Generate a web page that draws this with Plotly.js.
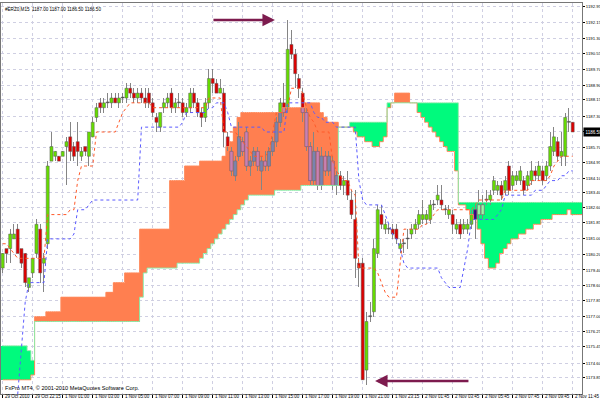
<!DOCTYPE html>
<html><head><meta charset="utf-8">
<script src="https://cdn.plot.ly/plotly-3.0.1.min.js"></script>
<style>html,body{margin:0;padding:0;background:#fff}#chart{width:600px;height:404px}</style>
</head><body><div id="chart"></div>
<script>
const headerText = '#ERZ0,M15  1187.00 1187.00 1186.50 1186.50';
const footerText = 'FxPro MT4, \u00A9 2001-2010 MetaQuotes Software Corp.';
const lastPriceLabel = '1186.50';
const lastPrice = 1186.5;

const xTickBars = [0,8,16,24,32,40,48,56,64,72,80,88,96,104,112,120,128,136,144,152];
const xTickLabels = ['29 Oct 2010','29 Oct 22:15','1 Nov 01:00','1 Nov 03:00','1 Nov 05:00','1 Nov 07:00','1 Nov 09:00','1 Nov 11:00','1 Nov 13:00','1 Nov 15:00','1 Nov 17:00','1 Nov 19:00','1 Nov 21:00','1 Nov 23:15','2 Nov 01:45','2 Nov 03:45','2 Nov 05:45','2 Nov 07:45','2 Nov 09:45','2 Nov 11:45'];
const yTickValues = [1173.00,1173.85,1174.60,1175.45,1176.25,1177.00,1177.85,1178.60,1179.40,1180.20,1181.00,1181.85,1182.60,1183.40,1184.10,1184.95,1185.70,1186.55,1187.30,1188.15,1188.90,1189.70,1190.55,1191.30,1192.15,1192.95];
const yTickLabels = ['1173.00','1173.85','1174.60','1175.45','1176.25','1177.00','1177.85','1178.60','1179.40','1180.20','1181.00','1181.85','1182.60','1183.40','1184.10','1184.95','1185.70','','1187.30','1188.15','1188.90','1189.70','1190.55','1191.30','1192.15','1192.95'];

const open = [1179.5,1180.5,1180.5,1181.0,1181.5,1180.5,1180.25,1178.5,1179.25,1180.25,1181.5,1179.75,1180.75,1185.0,1185.25,1185.25,1185.25,1185.75,1186.25,1185.75,
1186.0,1185.25,1185.75,1185.25,1186.25,1187.25,1188.0,1187.75,1188.0,1188.0,1188.25,1188.0,1188.25,1188.25,1188.75,1188.5,1188.25,1188.5,1188.25,1188.5,
1188.0,1187.25,1186.75,1187.75,1188.0,1188.5,1187.75,1188.0,1188.0,1187.5,1187.75,1188.5,1188.0,1187.5,1187.25,1188.0,1189.25,1189.0,1188.5,1188.5,
1186.25,1185.5,1184.25,1185.25,1186.0,1186.5,1184.75,1185.0,1185.5,1184.5,1185.0,1184.75,1185.5,1186.0,1187.0,1188.0,1187.75,1191.0,1190.5,1189.25,
1188.5,1187.5,1185.75,1184.0,1185.5,1183.75,1185.25,1184.5,1185.0,1183.75,1184.25,1183.75,1184.0,1183.0,1182.0,1179.75,1179.75,1174.25,1177.0,1177.25,
1180.25,1182.25,1181.5,1181.5,1181.5,1181.5,1180.5,1180.75,1181.0,1181.25,1181.5,1181.75,1182.0,1182.0,1182.0,1182.75,1183.0,1183.0,1182.5,1182.25,
1182.25,1181.5,1181.75,1181.5,1181.5,1181.75,1182.5,1182.25,1182.25,1183.0,1183.0,1183.5,1183.5,1183.75,1183.5,1184.75,1183.75,1184.0,1184.0,1184.0,
1183.75,1184.0,1184.5,1184.25,1184.5,1184.25,1184.75,1185.5,1186.0,1185.25,1185.25,1187.0,1187.0];
const high = [1180.25,1180.5,1181.5,1181.75,1181.75,1180.5,1180.25,1179.0,1180.0,1182.0,1181.75,1180.25,1185.0,1186.5,1185.5,1185.25,1185.5,1186.25,1187.0,1186.0,
1187.0,1185.75,1185.75,1186.5,1187.25,1188.0,1188.25,1188.25,1188.5,1188.5,1188.5,1188.5,1188.5,1189.0,1189.0,1188.75,1188.75,1188.75,1188.75,1188.75,
1188.25,1187.5,1187.5,1188.25,1188.5,1188.75,1188.25,1188.5,1188.25,1188.0,1188.75,1188.75,1188.25,1187.75,1188.25,1189.75,1189.75,1189.25,1189.25,1188.75,
1186.5,1185.75,1185.25,1187.0,1186.25,1186.75,1185.25,1185.75,1185.75,1185.25,1185.5,1185.75,1186.25,1187.25,1188.25,1189.0,1192.25,1191.75,1190.75,1189.5,
1188.75,1187.75,1186.0,1186.5,1185.75,1185.75,1185.5,1185.5,1185.25,1184.5,1184.5,1184.25,1184.5,1183.5,1183.5,1180.0,1180.0,1177.25,1177.75,1181.0,
1182.75,1182.75,1182.0,1181.75,1181.75,1181.75,1181.0,1181.0,1181.5,1181.75,1182.0,1182.5,1183.0,1182.5,1183.0,1183.0,1183.75,1183.75,1182.75,1182.75,
1182.5,1182.0,1182.0,1182.0,1182.0,1182.5,1182.75,1183.5,1183.25,1183.5,1183.5,1184.25,1184.0,1184.0,1184.25,1185.0,1184.5,1184.5,1184.75,1184.25,
1184.5,1185.0,1184.75,1185.0,1184.75,1185.0,1186.5,1186.75,1186.25,1186.5,1187.5,1187.75,1187.0];
const low = [1179.25,1179.75,1179.75,1181.0,1180.25,1179.5,1178.5,1178.25,1179.0,1180.0,1178.75,1178.25,1180.5,1185.0,1185.0,1185.0,1185.25,1183.75,1185.0,1185.0,
1184.75,1185.0,1185.25,1184.75,1186.25,1187.0,1187.5,1187.5,1187.75,1187.75,1188.0,1187.75,1188.0,1188.0,1188.25,1188.0,1188.0,1188.0,1187.75,1187.75,
1187.25,1186.5,1186.5,1187.5,1187.75,1187.5,1187.5,1187.75,1187.25,1187.25,1187.5,1187.75,1187.25,1186.75,1187.0,1187.75,1188.5,1188.5,1188.5,1185.75,
1185.5,1184.25,1184.0,1185.0,1185.25,1184.5,1184.25,1184.75,1184.5,1183.5,1184.5,1184.5,1185.25,1185.75,1186.75,1187.25,1187.5,1190.25,1188.75,1188.25,
1187.0,1185.5,1183.75,1183.75,1183.5,1183.5,1184.25,1184.25,1183.5,1183.25,1183.5,1183.25,1183.0,1182.0,1179.0,1178.5,1173.75,1173.5,1176.75,1177.0,
1180.0,1181.5,1181.25,1181.25,1181.0,1180.75,1180.25,1180.25,1180.5,1181.0,1181.25,1181.5,1181.75,1181.75,1181.75,1182.5,1182.75,1182.5,1182.25,1182.0,
1181.25,1181.25,1181.0,1181.25,1181.25,1181.5,1181.0,1182.0,1182.0,1182.75,1182.75,1183.25,1183.25,1183.0,1183.25,1183.25,1183.5,1183.75,1183.75,1183.25,
1183.5,1183.75,1184.0,1184.0,1183.75,1184.0,1184.5,1185.25,1185.0,1184.75,1184.75,1186.5,1186.5];
const close = [1180.25,1180.25,1181.25,1181.25,1180.25,1179.75,1178.75,1179.0,1180.0,1181.75,1179.25,1180.0,1184.75,1185.75,1185.5,1185.0,1185.5,1186.0,1185.5,1185.25,
1185.5,1185.5,1185.5,1186.5,1187.0,1187.75,1187.75,1188.0,1188.0,1188.25,1188.0,1188.25,1188.25,1188.75,1188.5,1188.25,1188.5,1188.25,1188.0,1188.0,
1187.5,1187.0,1187.5,1188.0,1188.25,1187.75,1188.0,1188.0,1187.5,1187.75,1188.5,1188.0,1187.5,1187.25,1188.0,1189.25,1189.0,1188.5,1188.75,1186.5,
1185.75,1184.5,1185.0,1186.25,1185.5,1184.75,1185.0,1185.5,1184.75,1185.0,1184.75,1185.5,1186.0,1187.0,1188.0,1187.5,1190.75,1190.5,1189.5,1188.75,
1187.5,1185.75,1184.0,1185.5,1183.75,1185.25,1184.5,1185.25,1183.75,1184.25,1183.75,1184.0,1183.25,1182.25,1180.0,1179.5,1173.75,1176.75,1177.0,1180.5,
1182.5,1181.75,1181.75,1181.5,1181.25,1181.0,1180.75,1180.75,1181.0,1181.5,1181.75,1182.25,1182.25,1182.25,1182.75,1182.75,1183.25,1182.75,1182.5,1182.5,
1181.75,1181.75,1181.25,1181.75,1181.75,1182.25,1182.0,1182.75,1182.75,1183.0,1183.25,1184.0,1183.75,1183.25,1184.0,1183.5,1184.25,1184.25,1184.5,1183.5,
1184.25,1184.5,1184.25,1184.75,1184.0,1184.75,1185.75,1186.25,1185.25,1185.5,1187.25,1187.0,1186.5];

const tenkan = [1180.75,1180.75,1180.5,1180.25,1180,1180,1180,1180,1180,1180,1180,1180,
1182.25,1182.25,1182.25,1182.25,1182.25,1182.25,1182.5,1182.5,1184.0,1184.75,1184.75,1184.75,1184.75,
1186.5,1186.5,1186.5,1186.5,1186.5,1186.5,1187.0,1187.5,1187.75,1188,1188,1188,1188,1188,1188,
1187.75,1187.75,1187.75,1187.75,1187.75,1187.75,1187.75,1187.75,1187.75,1187.75,1187.75,1187.75,1187.75,1187.75,1187.75,
1188.25,1188.25,1188.25,1188.25,1186.5,1186.5,1186.5,1186.5,1186.25,1186.0,1185.75,1185.5,1185.25,1185.25,1185.25,1185.25,
1185.5,1186.5,1187.5,1187.5,1187.5,1187.75,1188.75,1188.75,1188.75,1188.5,1187.75,1187.25,1187.0,1186.5,1186.5,1186.5,1186.5,
1185.0,1184.5,1184.25,1184.0,1184.0,1183.5,1183.25,1179.5,1179.5,1179.5,1179.5,1179.5,1179.25,1178.75,1178.25,1178,1178,1178,
1179.75,1181.5,1181.5,1181.5,1181.5,1181.5,1181.75,1181.75,1182.0,1182.25,
1182.5,1182.5,1182.5,1182.5,1182.5,1182.5,1182.5,1182.5,1182.5,1182.5,1182.75,
1183,1183,1183,1183,1183,1183,1183,1183.5,1183.5,1183.5,1183.5,1183.5,1183.5,1183.5,
1184,1184,1184,1184,1184,1184.25,1184.75,1185.0,1185.25,1185.25,1185.25,1185.25];
const kijun = [null,null,null,null,1173.0,1175.5,1177.75,1178.75,1178.75,1178.75,1178.75,1178.75,
1181,1181,1181,1181,1181,1181,1181,1181.25,1182.5,1182.5,1182.5,1182.75,
1183,1183,1183,1183,1183,1183,1183,1183,1183,1183,1183,1183,1183,
1186.75,1186.75,1186.75,1186.75,1186.75,1186.75,1186.75,1186.75,1186.75,1186.75,1186.75,1187.0,
1187.5,1187.5,1187.5,1187.5,1187.5,1187.5,1187.75,1187.75,1188,1188,1188,1187.5,
1186.75,1186.75,1186.75,1186.75,1186.75,1186.75,1186.75,1186.75,1186.75,1186.5,1186.5,1186.5,1186.5,1186.5,1186.5,
1188,1188,1188,1188,1188,1188,1188,1187.5,1187.25,1187.25,1187,1187,1187,
1186.75,1186.75,1186.75,1186.75,1186.75,1186.75,1184.0,1183.0,1182.75,1182.75,1182.75,1182.75,1182.75,
1182.25,1181.75,1181.25,1181.0,1180.5,1179.75,1179.5,1179.5,1179.5,1179.5,1179.5,1179.5,1179.5,1179.5,1179.5,
1179.0,1178.75,1178.5,1178.5,1178.5,1178.5,1179.5,1180.5,1182,1182,1182,1182,1182,1182,1182,1182.25,1182.5,
1183.25,1183.25,1183.25,1183.25,1183.25,1183.25,1183.25,1183.25,1183.5,1183.5,1183.5,1183.75,1184,1184,1184,1184.25,1184.25,1184.5,1184.5];
const spanA = [1173.75,1173.75,1173.75,1173.75,1173.75,1173.75,1173.75,1173.75,1174.0,
1177,1177,1177,1177.25,1177.25,1177.25,1177.25,
1178,1178,1178,1178,1178,1178,1178,1178,1178,1178,1178,1178,1178.25,1178.25,1178.75,1178.75,1178.75,1179.25,1179.25,1179.25,1179.25,
1181.5,1181.5,1181.5,1181.5,1181.5,1181.5,1181.5,1181.5,1184,1184,1184,1184,1184.75,1184.75,1184.75,1184.75,
1185,1185,1185,1185,1185,1185,1185.25,1185.75,1186.0,1186.75,1187.25,
1187.5,1187.5,1187.5,1187.5,1187.5,1187.5,1187.5,1187.5,1187.5,1187.5,1187.5,
1187.75,1187.75,1187.75,1187.75,1187.75,1187.75,1188,1188,1188,1188,1187.5,1187.25,1187,1187,1187,
1186.75,1186.75,1186.75,1186.75,1186.5,1186.25,1186.25,1186.0,1186.0,1185.75,1185.75,1186.0,1186.25,1187.75,1188.0,
1188.5,1188.5,1188.5,1188.5,1188,1188,
1187.5,1187.25,1187.0,1186.75,1186.5,1186.25,1186.0,1185.75,1185.5,1185.5,1184.5,
1182.75,1182.75,1182.5,1182.25,1182.0,1181.5,1180.75,1180.0,1179.5,1179.5,1179.75,1180.25,1180.5,1180.75,
1181,1181,1181.25,1181.25,1181.5,1181.5,1181.75,1181.75,1182,1182,1182,1182.25,1182.25,1182.25,1182.25,1182.5,1182.25,1182.25,1182.25,1182.25];
const spanB = [1175.5,1175.5,1175.5,1175.5,1175.5,1175.5,1175.5,1175.25,1174.75,
1176.75,1176.75,1176.75,1176.75,1176.75,1176.75,1176.75,1176.75,1176.75,1176.75,1176.75,1176.75,1176.75,1176.75,
1176.75,1176.75,1176.75,1176.75,1176.75,1176.75,1176.75,1176.75,1176.75,1176.75,1176.75,1176.75,1176.75,1176.75,
1178.0,1179.25,1179.5,1179.5,1179.5,1179.5,1179.5,1179.5,1179.5,1179.5,1179.75,1179.75,1179.75,1179.75,1179.75,1179.75,
1180.0,1180.25,1180.5,1180.75,1181.0,1181.25,1181.5,1181.75,1182.0,1182.25,1182.5,1182.75,1183.0,
1183.25,1183.25,1183.25,1183.25,1183.25,1183.25,1183.25,1183.5,1183.5,1183.5,1183.5,1183.5,1183.5,1183.5,
1183.75,1183.75,1183.75,1183.75,1183.75,1183.75,1183.75,1183.75,1183.75,1183.75,
1186.75,1186.75,1186.75,1187,1187,1187,1187,1187,1187,1187,1187,1187,1187,
1188,1188,1188,1188,1188,1188,1188,1188,1188,1188,1188,1188,1188,1188,1188,1188,1188,1188,1188,
1182.875,1182.875,1182.875,1182.875,1182.875,1182.875,1182.875,1182.875,1182.875,1182.875,1182.875,1182.875,
1182.875,1182.875,1182.875,1182.875,1182.875,1182.875,1182.875,1182.875,1182.875,1182.875,1182.875,1182.875,
1182.875,1182.875,1182.875,1182.875,1182.875,1182.875,1182.875,1182.875,1182.875,1182.875];

// ---- styles ----
const ORANGE = '#FF7F50', MINT = '#00FA7D';
const BULL = '#66DD00', BEAR = '#DD0000', WICK = '#858585', DOJI = '#444444';
const IN_OR_BULL = '#7983B0', IN_OR_BEAR = '#CA80B0';
const IN_GR_BULL = '#9AF5A8', IN_GR_BEAR = '#330580';

const bars = open.map((_, i) => i);
const cbars = spanA.map((_, i) => i);
const cloudLo = spanA.map((a, i) => Math.min(a, spanB[i]));
const cloudHi = spanA.map((a, i) => Math.max(a, spanB[i]));
const cloudUp = spanA.map((a, i) => a >= spanB[i]);

const bodyLo = open.map((o, i) => Math.min(o, close[i]));
const bodyHi = open.map((o, i) => Math.max(o, close[i]));
const bodyH = bodyLo.map((l, i) => Math.max(bodyHi[i] - l, 0.045));
const bodyColor = open.map((o, i) => close[i] > o ? BULL : (close[i] < o ? BEAR : DOJI));

const inX = [], inBase = [], inH = [], inC = [];
bars.forEach(i => {
  const lo = Math.max(bodyLo[i], cloudLo[i]);
  const hi = Math.min(bodyHi[i], cloudHi[i]);
  if (hi - lo > 0.001 && close[i] !== open[i]) {
    inX.push(i); inBase.push(lo); inH.push(hi - lo);
    const bull = close[i] > open[i];
    inC.push(cloudUp[i] ? (bull ? IN_OR_BULL : IN_OR_BEAR) : (bull ? IN_GR_BULL : IN_GR_BEAR));
  }
});

const traces = [
  {type:'bar', x:cbars, base:cloudLo, y:cloudHi.map((h, i) => h - cloudLo[i]), width:1.04,
   marker:{color:cloudUp.map(u => u ? ORANGE : MINT), line:{width:0}}, hoverinfo:'skip'},
  {type:'bar', x:bars, base:low, y:high.map((h, i) => h - low[i]), width:0.28,
   marker:{color:WICK, line:{width:0}}, hoverinfo:'skip'},
  {type:'bar', x:bars, base:bodyLo, y:bodyH, width:0.8,
   marker:{color:bodyColor, line:{color:'#5a5a5a', width:0.5}}, hoverinfo:'skip'},
  {type:'bar', x:inX, base:inBase, y:inH, width:0.8,
   marker:{color:inC, line:{color:'#8a6a8a', width:0.5}}, hoverinfo:'skip'},
  {type:'scatter', mode:'lines', x:cbars, y:spanA, line:{color:'#FF8A5C', width:1, shape:'hvh'}, hoverinfo:'skip'},
  {type:'scatter', mode:'lines', x:cbars, y:spanB, line:{color:'#8CEBA8', width:1, shape:'hvh'}, hoverinfo:'skip'},
  {type:'scatter', mode:'lines', x:bars, y:tenkan, line:{color:'#FF5A2A', width:1, dash:'dot'}, hoverinfo:'skip', connectgaps:false},
  {type:'scatter', mode:'lines', x:bars, y:kijun, line:{color:'#5A5AFF', width:1, dash:'dot'}, hoverinfo:'skip', connectgaps:false}
];

const FONT = 'Liberation Sans, Arial, sans-serif';
const xLabelAnnotations = xTickLabels.map((t, k) => ({
  xref:'x', yref:'paper', x:xTickBars[k], y:0, xanchor:'left', yanchor:'top', xshift:1, yshift:1,
  text:t, showarrow:false, borderpad:0, font:{family:FONT, size:4.5, color:'#000'}
}));

const layout = {
  width:600, height:404,
  margin:{l:1, r:18, t:3, b:10, pad:0},
  paper_bgcolor:'#ffffff', plot_bgcolor:'#ffffff',
  barmode:'overlay', bargap:0, showlegend:false,
  font:{family:FONT, size:4.5, color:'#000'},
  xaxis:{range:[-0.453, 154.48], tickmode:'array', tickvals:xTickBars, showticklabels:false,
    ticks:'outside', ticklen:3, tickcolor:'#000',
    showgrid:true, gridcolor:'#cfcfe2', griddash:'dot', gridwidth:1,
    showline:true, mirror:true, linecolor:'#777', linewidth:1, zeroline:false, fixedrange:true},
  yaxis:{range:[1173.02, 1193.136], side:'right', tickmode:'array',
    tickvals:yTickValues, ticktext:yTickLabels,
    ticks:'outside', ticklen:2, tickcolor:'#000',
    showgrid:true, gridcolor:'#cfcfe2', griddash:'dot', gridwidth:1,
    showline:true, mirror:true, linecolor:'#777', linewidth:1, zeroline:false,
    tickfont:{family:FONT, size:4.3, color:'#000'}, fixedrange:true},
  annotations:[
    {xref:'paper', yref:'paper', x:0, y:1, xanchor:'left', yanchor:'top', xshift:2, yshift:-2,
     text:headerText, showarrow:false, font:{family:FONT, size:4.6, color:'#000'}},
    {xref:'paper', yref:'paper', x:0, y:0, xanchor:'left', yanchor:'bottom', xshift:2, yshift:1,
     text:footerText, showarrow:false, font:{family:FONT, size:5.6, color:'#000'}},
    {xref:'paper', yref:'y', x:1, y:lastPrice, xanchor:'left', yanchor:'middle', xshift:1,
     text:lastPriceLabel, showarrow:false, bgcolor:'#000', borderpad:1.5,
     font:{family:FONT, size:4.5, color:'#fff'}},
    {xref:'x', yref:'y', axref:'x', ayref:'y', x:72.6, y:1192.26, ax:55.8, ay:1192.26,
     text:'', showarrow:true, arrowhead:2, arrowsize:1, arrowwidth:2.5, arrowcolor:'#7D1B4E', standoff:0},
    {xref:'x', yref:'y', axref:'x', ayref:'y', x:99.3, y:1173.69, ax:124.6, ay:1173.69,
     text:'', showarrow:true, arrowhead:2, arrowsize:1, arrowwidth:2.5, arrowcolor:'#7D1B4E', standoff:0}
  ].concat(xLabelAnnotations)
};

Plotly.newPlot('chart', traces, layout, {displayModeBar:false, staticPlot:true});
</script>
</body></html>
